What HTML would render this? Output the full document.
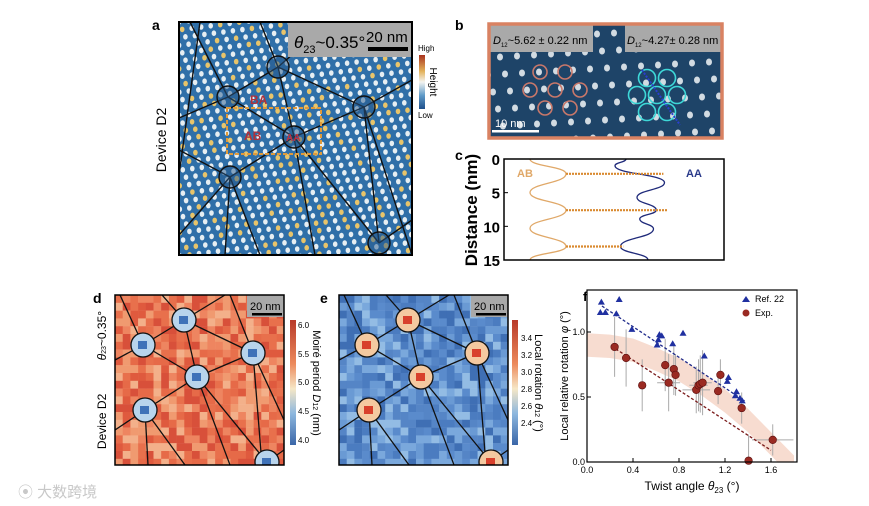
<!DOCTYPE html>
<html><head><meta charset="utf-8"><style>
body{margin:0;background:#fff;}
svg{display:block;font-family:"Liberation Sans","Noto Sans CJK SC",sans-serif;}
</style></head><body>
<svg id="fig" width="869" height="506" viewBox="0 0 869 506" xmlns="http://www.w3.org/2000/svg">
<defs>
<linearGradient id="cbH" x1="0" y1="0" x2="0" y2="1"><stop offset="0" stop-color="#a8321e"/><stop offset="0.3" stop-color="#e3b25a"/><stop offset="0.5" stop-color="#f4f4f0"/><stop offset="0.75" stop-color="#5e9ac8"/><stop offset="1" stop-color="#1f4f8a"/></linearGradient>
<linearGradient id="cbD" x1="0" y1="0" x2="0" y2="1"><stop offset="0" stop-color="#b83a2a"/><stop offset="0.35" stop-color="#ec8a5c"/><stop offset="0.55" stop-color="#f6e7c6"/><stop offset="0.75" stop-color="#8db7de"/><stop offset="1" stop-color="#3a66a8"/></linearGradient>
<clipPath id="clipA"><rect x="179" y="22" width="233" height="233"/></clipPath>
<clipPath id="clipB"><rect x="489" y="24" width="233" height="114"/></clipPath>
<clipPath id="clipD"><rect x="115" y="295" width="169" height="170"/></clipPath>
<clipPath id="clipE"><rect x="339" y="295" width="169" height="170"/></clipPath>
<clipPath id="clipF"><rect x="587" y="290" width="210" height="172"/></clipPath>
</defs>

<!-- Panel a -->
<text x="152" y="30" font-size="14" font-weight="bold">a</text>
<text transform="translate(166,140) rotate(-90)" text-anchor="middle" font-size="14">Device D2</text>
<rect x="179" y="22" width="233" height="233" fill="#2f6fa8"/>
<g id="dotsA" clip-path="url(#clipA)"></g>
<g id="netA" clip-path="url(#clipA)" stroke="#111" stroke-width="1.4" fill="none"></g>
<rect x="288" y="22" width="124" height="35" fill="#a9a9a9"/>
<text x="294" y="48" font-size="17"><tspan font-style="italic">θ</tspan><tspan font-size="11" dy="5">23</tspan><tspan dy="-5">~0.35°</tspan></text>
<text x="366" y="42" font-size="15">20 nm</text>
<rect x="368" y="47" width="40" height="4" fill="#000"/>
<text x="250" y="104" font-size="12" font-weight="bold" fill="#b0303a">BA</text>
<text x="244" y="140" font-size="12" font-weight="bold" fill="#b0303a">AB</text>
<text x="286" y="141" font-size="10" font-weight="bold" fill="#c03040">AA</text>
<rect x="227" y="108" width="94" height="46" fill="none" stroke="#e09a3a" stroke-width="2" stroke-dasharray="4,2"/>
<rect x="179" y="22" width="233" height="233" fill="none" stroke="#000" stroke-width="2"/>
<text x="418" y="51" font-size="8">High</text>
<rect x="419" y="55" width="6" height="54" fill="url(#cbH)"/>
<text x="418" y="118" font-size="8">Low</text>
<text transform="translate(430,82) rotate(90)" text-anchor="middle" font-size="10">Height</text>

<!-- Panel b -->
<text x="455" y="30" font-size="14" font-weight="bold">b</text>
<rect x="489" y="24" width="233" height="114" fill="#1e4468"/>
<g id="dotsB" clip-path="url(#clipB)"></g>
<rect x="489" y="24" width="104" height="28" fill="#a9a9a9"/>
<rect x="625" y="24" width="97" height="28" fill="#a9a9a9"/>
<text x="493" y="44" font-size="11"><tspan font-style="italic">D</tspan><tspan font-size="6" dy="3">12</tspan><tspan dy="-3">~5.62 ± 0.22 nm</tspan></text>
<text x="627" y="44" font-size="11"><tspan font-style="italic">D</tspan><tspan font-size="6" dy="3">12</tspan><tspan dy="-3">~4.27± 0.28 nm</tspan></text>
<g id="ringsB" fill="none" stroke-width="1.6"></g>
<rect x="492" y="130" width="47" height="2.5" fill="#fff"/>
<text x="495" y="127" font-size="11" fill="#fff">10 nm</text>
<rect x="489" y="24" width="233" height="114" fill="none" stroke="#d98262" stroke-width="3.5"/>

<!-- Panel c -->
<text x="455" y="160" font-size="14" font-weight="bold">c</text>
<text transform="translate(477,210) rotate(-90)" text-anchor="middle" font-size="17" font-weight="bold">Distance (nm)</text>
<g id="panelC"></g>

<!-- Panel d -->
<text x="93" y="303" font-size="14" font-weight="bold">d</text>
<text transform="translate(106,380) rotate(-90)" text-anchor="middle" font-size="12">Device D2 &#160;&#160;&#160;&#160;&#160;&#160;&#160;&#160; <tspan font-style="italic">θ</tspan><tspan font-size="7">23</tspan>~0.35°</text>
<g id="heatD" clip-path="url(#clipD)"></g>
<g id="netD" clip-path="url(#clipD)" stroke="#111" stroke-width="1.3" fill="none"></g>
<rect x="247" y="295" width="37" height="22" fill="#a9a9a9"/>
<text x="250" y="310" font-size="11">20 nm</text>
<rect x="252" y="313" width="30" height="2.5" fill="#000"/>
<rect x="115" y="295" width="169" height="170" fill="none" stroke="#000" stroke-width="1.5"/>
<rect x="290" y="320" width="6" height="125" fill="url(#cbD)"/>
<g font-size="8">
<text x="298" y="328">6.0</text><text x="298" y="357">5.5</text><text x="298" y="385">5.0</text><text x="298" y="414">4.5</text><text x="298" y="443">4.0</text></g>
<text transform="translate(313,383) rotate(90)" text-anchor="middle" font-size="11">Moiré period <tspan font-style="italic">D</tspan><tspan font-size="7">12</tspan> (nm)</text>

<!-- Panel e -->
<text x="320" y="303" font-size="14" font-weight="bold">e</text>
<g id="heatE" clip-path="url(#clipE)"></g>
<g id="netE" clip-path="url(#clipE)" stroke="#111" stroke-width="1.3" fill="none"></g>
<rect x="471" y="295" width="37" height="22" fill="#a9a9a9"/>
<text x="474" y="310" font-size="11">20 nm</text>
<rect x="476" y="313" width="30" height="2.5" fill="#000"/>
<rect x="339" y="295" width="169" height="170" fill="none" stroke="#000" stroke-width="1.5"/>
<rect x="512" y="320" width="6" height="125" fill="url(#cbD)"/>
<g font-size="8">
<text x="521" y="341">3.4</text><text x="521" y="358">3.2</text><text x="521" y="375">3.0</text><text x="521" y="392">2.8</text><text x="521" y="409">2.6</text><text x="521" y="426">2.4</text></g>
<text transform="translate(535,383) rotate(90)" text-anchor="middle" font-size="11">Local rotation <tspan font-style="italic">θ</tspan><tspan font-size="7">12</tspan> (°)</text>

<!-- Panel f -->
<text x="583" y="301" font-size="13" font-weight="bold">f</text>
<g id="panelF"></g>
<text x="692" y="490" text-anchor="middle" font-size="12">Twist angle <tspan font-style="italic">θ</tspan><tspan font-size="8" dy="3">23</tspan><tspan dy="-3"> (°)</tspan></text>
<text transform="translate(568,376) rotate(-90)" text-anchor="middle" font-size="11">Local relative rotation <tspan font-style="italic">φ</tspan> (°)</text>

<text x="18" y="497" font-size="15" fill="#c8c8c8">⦿ 大数跨境</text>
</svg>
<script>
var NS='http://www.w3.org/2000/svg';
function mk(p,t,a){var e=document.createElementNS(NS,t);for(var k in a)e.setAttribute(k,a[k]);p.appendChild(e);return e;}
function h(i,j){var s=Math.sin(i*12.9898+j*78.233)*43758.5453;return s-Math.floor(s);}

/* Panel a texture */
var gA=document.getElementById('dotsA');
for(var r=-10;r<45;r++)for(var c=-15;c<45;c++){
  var x=179+c*9.5+r*3.2, y=22+r*7.4-c*1.2;
  if(x<172||x>418||y<16||y>261)continue;
  var n=h(r,c);
  mk(gA,'ellipse',{cx:x,cy:y,rx:2.3,ry:2.8,fill:n>0.75?'#e8c46a':'#e6eef2'});
}
var circA=[[278,67],[228,97],[364,107],[294,137],[230,177],[379,243]];
var linesA=[[278,67,228,97],[278,67,364,107],[278,67,294,137],[228,97,294,137],[228,97,179,118],[228,97,190,22],[278,67,260,22],[278,67,330,22],[364,107,294,137],[364,107,412,80],[364,107,412,255],[364,107,379,243],[294,137,230,177],[294,137,315,255],[294,137,379,243],[230,177,179,150],[230,177,179,235],[230,177,225,255],[230,177,260,255],[379,243,412,220],[179,175,200,22]];
var nA=document.getElementById('netA');
linesA.forEach(function(l){mk(nA,'line',{x1:l[0],y1:l[1],x2:l[2],y2:l[3]});});
circA.forEach(function(p){mk(nA,'circle',{cx:p[0],cy:p[1],r:11,fill:'rgba(40,90,140,0.5)'});});

/* Panel b texture */
var gB=document.getElementById('dotsB');
for(var r=-2;r<8;r++)for(var c=-2;c<16;c++){
  var x=495+c*17+r*5, y=40+r*17-c*1;
  mk(gB,'ellipse',{cx:x,cy:y,rx:3,ry:3.5,fill:'#f2f6f8',opacity:0.85});
}
var rB=document.getElementById('ringsB');
[[540,72],[565,72],[530,90],[555,90],[580,90],[545,108],[570,108]].forEach(function(p){mk(rB,'circle',{cx:p[0],cy:p[1],r:7,stroke:'#c9786a'});});
[[647,78],[667,78],[637,95],[657,95],[677,95],[647,112],[667,112]].forEach(function(p){mk(rB,'circle',{cx:p[0],cy:p[1],r:8.5,stroke:'#3ed8d8'});});
mk(rB,'line',{x1:642,y1:70,x2:680,y2:125,stroke:'#2a3fd0','stroke-dasharray':'2,1.5','stroke-width':2});

/* Panel c */
var cDist=[0,2.2,5,7.6,10.3,13,15];
var abX=[0.0,0.45,0.0,0.45,0.0,0.45,0.0];
var aaDist=[0,1,3.5,5.7,7.6,8.9,10.4,13,15];
var aaVal=[0.2,0.0,0.9,0.4,0.75,0.45,0.7,0.1,0.6];
var gC=document.getElementById('panelC');
var cy=function(d){return 159+d*(101/15);};
var abx=function(v){return 530+v*80;}, aax=function(v){return 615+v*55;};
function smooth(xs,ys){var d='M'+xs[0]+','+ys[0];for(var i=1;i<xs.length;i++){var my=(ys[i-1]+ys[i])/2;d+=' C'+xs[i-1]+','+my+' '+xs[i]+','+my+' '+xs[i]+','+ys[i];}return d;}
mk(gC,'path',{d:smooth(abX.map(abx),cDist.map(cy)),fill:'none',stroke:'#e0a868','stroke-width':1.3,});
mk(gC,'path',{d:smooth(aaVal.map(aax),aaDist.map(cy)),fill:'none',stroke:'#1f2a7a','stroke-width':1.3,});
[[2.2,0.45,0.88],[7.6,0.45,0.95],[13,0.45,0.15]].forEach(function(q){
  var el=mk(gC,'line',{x1:abx(q[1]),y1:cy(q[0]),x2:aax(q[2]),y2:cy(q[0]),stroke:'#d98a30','stroke-width':2.2,'stroke-dasharray':'2,1'});
  
  
});
mk(gC,'rect',{x:504,y:159,width:220,height:101,fill:'none',stroke:'#000','stroke-width':1.5});
['0','5','10','15'].forEach(function(t,i){
  mk(gC,'line',{x1:504,y1:cy(i*5),x2:508,y2:cy(i*5),stroke:'#000'});
  var tx=mk(gC,'text',{x:500,y:cy(i*5)+6,'text-anchor':'end','font-size':15,'font-weight':'bold'});tx.textContent=t;
});
var t1=mk(gC,'text',{x:517,y:177,'font-size':11,'font-weight':'bold',fill:'#e0a868'});t1.textContent='AB';
var t2=mk(gC,'text',{x:686,y:177,'font-size':11,'font-weight':'bold',fill:'#2a3a8a'});t2.textContent='AA';

/* Panels d/e heatmaps */
function heat(id,x0,cols){
  var g=document.getElementById(id);
  for(var r=0;r<22;r++)for(var c=0;c<22;c++){
    var n=h(r+(id=='heatE'?3:0),c);
    mk(g,'rect',{x:x0+c*7.7,y:295+r*7.8,width:8,height:8,fill:cols[Math.floor(n*cols.length)]});
  }
}
heat('heatD',115,['#e8704c','#ee8560','#df5a3e','#f09a70','#e66a48','#d8503a','#f3b08a']);
heat('heatE',339,['#4b7cc0','#5a8bcc','#6a9ad4','#3f6fb4','#7aa8dc','#5585c6','#93bce4']);
var circD=[[184,320],[143,345],[253,353],[197,377],[145,410],[267,462]];
var linesD=[[184,320,143,345],[184,320,253,353],[184,320,197,377],[143,345,197,377],[143,345,115,360],[143,345,120,295],[184,320,162,295],[184,320,225,295],[253,353,197,377],[253,353,230,295],[253,353,284,420],[253,353,262,465],[197,377,145,410],[197,377,230,465],[197,377,265,460],[145,410,115,430],[145,410,148,465],[145,410,185,465],[267,462,284,450]];
function net(id,dx,fillC,inner){
  var g=document.getElementById(id);
  linesD.forEach(function(l){mk(g,'line',{x1:l[0]+dx,y1:l[1],x2:l[2]+dx,y2:l[3]});});
  circD.forEach(function(p){mk(g,'circle',{cx:p[0]+dx,cy:p[1],r:12,fill:fillC});mk(g,'rect',{x:p[0]+dx-5,y:p[1]-4,width:9,height:8,fill:inner,stroke:'none'});});
}
net('netD',0,'#b8d4ec','#3f72b8');
net('netE',224,'#f4c9a0','#d8402c');

/* Panel f */
var refX=[0.125,0.28,0.116,0.16,0.255,0.39,0.62,0.63,0.65,0.61,0.745,0.835,1.02,1.23,1.22,1.30,1.29,1.33,1.35];
var refY=[1.23,1.25,1.15,1.15,1.14,1.02,0.94,0.98,0.97,0.90,0.91,0.99,0.815,0.65,0.62,0.54,0.51,0.49,0.47];
var expX=[0.24,0.34,0.48,0.68,0.71,0.755,0.77,0.95,0.97,0.985,1.005,1.14,1.16,1.345,1.405,1.615];
var expY=[0.885,0.80,0.59,0.745,0.61,0.715,0.67,0.555,0.59,0.60,0.61,0.545,0.67,0.415,0.01,0.17];
var expYerr=[0.23,0.22,0.2,0.2,0.22,0.2,0.16,0.18,0.2,0.22,0.25,0.1,0.12,0.12,0.2,0.12];
var expXerr=[0.01,0.01,0.01,0.02,0.1,0.03,0.02,0.12,0.08,0.05,0.08,0.02,0.02,0.02,0.02,0.18];
var refFit=[[0.13,1.2],[1.37,0.47]];
var expFit=[[0.25,0.87],[1.6,0.09]];
var bandX=[0,0.2,0.4,0.6,0.8,1.0,1.2,1.4,1.6,1.8];
var bandY=[0.9,0.89,0.86,0.79,0.71,0.6,0.47,0.32,0.14,-0.04];
var xTicks=['0.0','0.4','0.8','1.2','1.6'];
var yTicks=['0.0','0.5','1.0'];
var fx=function(v){return 587+v*115;}, fy=function(v){return 462-v*130;};
var gF=document.getElementById('panelF');
var gFc=mk(gF,'g',{'clip-path':'url(#clipF)'});
var up='',dn='';
bandX.forEach(function(x,i){up+=(i?'L':'M')+fx(x)+','+fy(bandY[i]+0.09);});
for(var i=bandX.length-1;i>=0;i--)dn+='L'+fx(bandX[i])+','+fy(bandY[i]-0.09);
var band=mk(gFc,'path',{d:up+dn+'Z',fill:'#f6d6c8',opacity:0.85});


expX.forEach(function(x,i){
  mk(gFc,'line',{x1:fx(x),y1:fy(expY[i]-expYerr[i]),x2:fx(x),y2:fy(expY[i]+expYerr[i]),stroke:'#aaa','stroke-width':1});
  mk(gFc,'line',{x1:fx(x-expXerr[i]),y1:fy(expY[i]),x2:fx(x+expXerr[i]),y2:fy(expY[i]),stroke:'#aaa','stroke-width':1});
});
var l1=mk(gFc,'line',{x1:fx(refFit[0][0]),y1:fy(refFit[0][1]),x2:fx(refFit[1][0]),y2:fy(refFit[1][1]),stroke:'#1f2a8a','stroke-width':1.3,'stroke-dasharray':'3,2'});

var l2=mk(gFc,'line',{x1:fx(expFit[0][0]),y1:fy(expFit[0][1]),x2:fx(expFit[1][0]),y2:fy(expFit[1][1]),stroke:'#7a1a1a','stroke-width':1.3,'stroke-dasharray':'3,2'});

refX.forEach(function(x,i){
  var X=fx(x),Y=fy(refY[i]);
  var p=mk(gF,'polygon',{points:X+','+(Y-3.5)+' '+(X-3.5)+','+(Y+2.5)+' '+(X+3.5)+','+(Y+2.5),fill:'#2030a0'});
  
  
});
expX.forEach(function(x,i){
  var c=mk(gF,'circle',{cx:fx(x),cy:fy(expY[i]),r:3.8,fill:'#9a2a22',stroke:'#5a1010','stroke-width':0.6});
  
  
});
mk(gF,'rect',{x:587,y:290,width:210,height:172,fill:'none',stroke:'#000','stroke-width':1.2});
xTicks.forEach(function(t){var v=parseFloat(t);mk(gF,'line',{x1:fx(v),y1:462,x2:fx(v),y2:458,stroke:'#000'});var e=mk(gF,'text',{x:fx(v),y:473,'text-anchor':'middle','font-size':9});e.textContent=t;});
yTicks.forEach(function(t){var v=parseFloat(t);mk(gF,'line',{x1:587,y1:fy(v),x2:591,y2:fy(v),stroke:'#000'});var e=mk(gF,'text',{x:585,y:fy(v)+3,'text-anchor':'end','font-size':9});e.textContent=t;});
mk(gF,'polygon',{points:'746,296 742,302 750,302',fill:'#2030a0'});
var lg1=mk(gF,'text',{x:755,y:302,'font-size':9});lg1.textContent='Ref. 22';

mk(gF,'circle',{cx:746,cy:313,r:3.5,fill:'#9a2a22'});
var lg2=mk(gF,'text',{x:755,y:316,'font-size':9});lg2.textContent='Exp.';

</script>
</body></html>
